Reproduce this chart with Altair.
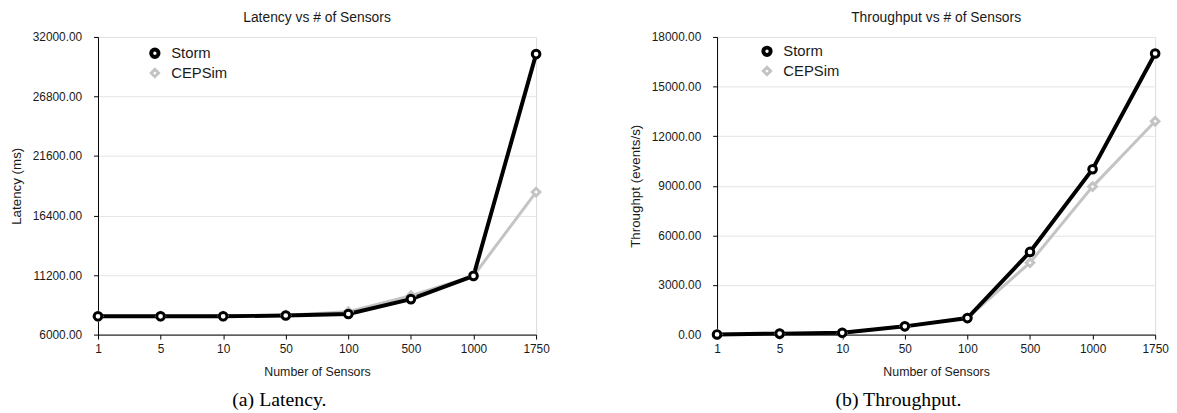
import altair as alt
import pandas as pd

sensors = ["1", "5", "10", "50", "100", "500", "1000", "1750"]
series = ["Storm", "CEPSim"]

latency_storm = [7600, 7600, 7600, 7670, 7800, 9100, 11130, 30500]
latency_cepsim = [7600, 7600, 7620, 7700, 8000, 9400, 11130, 18450]

throughput_storm = [10, 60, 110, 500, 1000, 5000, 10000, 17000]
throughput_cepsim = [10, 50, 100, 500, 1000, 4350, 8950, 12900]

lat_ticks = [6000, 11200, 16400, 21600, 26800, 32000]
thr_ticks = [0, 3000, 6000, 9000, 12000, 15000, 18000]

FONT = "Liberation Sans"
SERIF = "Liberation Serif"
TXT = "#1a1a1a"


def make_df(storm, cepsim):
    rows = []
    for s, v in zip(sensors, cepsim):
        rows.append({"Sensors": s, "Series": "CEPSim", "Value": v, "order": 0})
    for s, v in zip(sensors, storm):
        rows.append({"Sensors": s, "Series": "Storm", "Value": v, "order": 1})
    return pd.DataFrame(rows)


def panel(df, title, ytitle, ticks, width, caption, legend_x, legend_y):
    x = alt.X("Sensors:O", sort=sensors, title="Number of Sensors",
              scale=alt.Scale(type="point", padding=0),
              axis=alt.Axis(labelAngle=0, domainColor="black", tickColor="black",
                            tickSize=4.5, labelPadding=5, titlePadding=11,
                            labelFontSize=12, titleFontSize=12.5, labelFont=FONT,
                            titleFont=FONT, titleFontWeight="normal", grid=False,
                            labelColor=TXT, titleColor=TXT))
    y = alt.Y("Value:Q", title=ytitle,
              scale=alt.Scale(domain=[ticks[0], ticks[-1]], nice=False, zero=False),
              axis=alt.Axis(values=ticks, format=".2f", domainColor="black",
                            tickColor="black", tickSize=4.5, labelPadding=12,
                            titlePadding=9, labelFontSize=12, titleFontSize=13.5,
                            labelFont=FONT, titleFont=FONT, titleFontWeight="normal",
                            grid=True, gridColor="#e4e4e4", labelColor=TXT,
                            titleColor=TXT))
    color_scale = alt.Scale(domain=series, range=["#000000", "#c4c4c4"])
    shape_scale = alt.Scale(domain=series, range=["circle", "diamond"])
    leg = alt.Legend(title=None, orient="none", legendX=legend_x, legendY=legend_y,
                     labelFont=FONT, labelFontSize=15, labelColor=TXT,
                     symbolSize=55, symbolStrokeWidth=3, symbolFillColor="white",
                     rowPadding=-4, labelOffset=9, padding=0)
    base = alt.Chart(df)
    lines = base.mark_line().encode(
        x=x, y=y,
        color=alt.Color("Series:N", scale=color_scale, legend=leg),
        strokeWidth=alt.StrokeWidth("Series:N",
                                    scale=alt.Scale(domain=series, range=[4, 3]),
                                    legend=None),
    )
    pts = base.mark_point(filled=False, fill="white", fillOpacity=1, size=60,
                          strokeWidth=3, opacity=1).encode(
        x=x, y=y,
        color=alt.Color("Series:N", scale=color_scale, legend=leg),
        shape=alt.Shape("Series:N", scale=shape_scale, legend=leg),
        order=alt.Order("order:Q"),
    )
    inner = alt.layer(lines, pts).properties(
        width=width, height=301,
        title=alt.Title(title, font=FONT, fontSize=14, fontWeight="normal",
                        color=TXT, offset=6),
    )
    return alt.vconcat(inner, title=alt.Title(caption, orient="bottom", font=SERIF,
                                              fontSize=20, fontWeight="normal",
                                              color="black", anchor="middle",
                                              frame="bounds", offset=12))


left = panel(make_df(latency_storm, latency_cepsim), "Latency vs # of Sensors",
             "Latency (ms)", lat_ticks, 443, "(a) Latency.", 50, 9)
right = panel(make_df(throughput_storm, throughput_cepsim),
              "Throughput vs # of Sensors", "Throughpt (events/s)", thr_ticks, 443,
              "(b) Throughput.", 43, 7)

chart = alt.hconcat(left, right, spacing=78).resolve_scale(
    color="independent", shape="independent", strokeWidth="independent"
).resolve_legend(color="independent", shape="independent").properties(
    padding=0
).configure_view(stroke=None).configure(background="white")

chart.save("out.html", embed_options={"renderer": "svg", "actions": False})
